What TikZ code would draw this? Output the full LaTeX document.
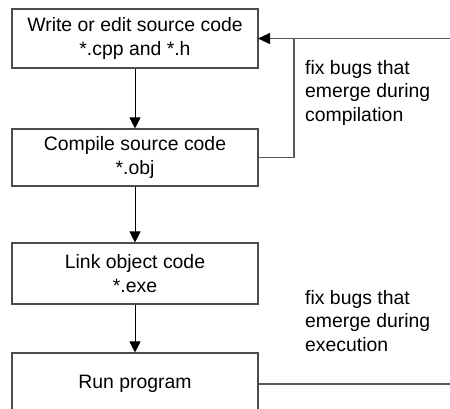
\documentclass[tikz,border=0pt]{standalone}
\usepackage{fontspec}
\setmainfont{Liberation Sans}
\usetikzlibrary{arrows.meta}
\begin{document}
\begin{tikzpicture}[x=1pt,y=-1pt,
  stage/.style={draw=black!70, line width=1.1pt, minimum width=246pt,
    inner sep=0pt, align=center, font=\fontsize{19.4}{23.5}\selectfont},
  flow/.style={draw=black, line width=1pt, -{Triangle[length=11pt,width=11pt]}},
  back/.style={draw=black!65, line width=1.2pt},
  note/.style={anchor=north west, inner sep=0pt, align=left,
    font=\fontsize{19.4}{23.5}\selectfont}]
  \useasboundingbox (0,0) rectangle (450,409);

  % process stages
  \node[stage, minimum height=59pt] (write)   at (135,38.5)  {Write or edit source code\\*.cpp and *.h};
  \node[stage, minimum height=57pt] (compile) at (135,157.5) {Compile source code\\*.obj};
  \node[stage, minimum height=61pt] (link)    at (135,273.5) {Link object code\\*.exe};
  \node[stage, minimum height=62pt] (run)     at (135,384)   {Run program};

  % main flow
  \draw[flow] (write) -- (compile);
  \draw[flow] (compile) -- (link);
  \draw[flow] (link) -- (run);

  % feedback loops
  \coordinate (loopin)  at (450,38.5);
  \coordinate (corner)  at (294,38.5);
  \coordinate (loopout) at (450,384);
  \draw[back] (compile.east) -| (corner);
  \draw[back] (loopin) -- (corner);
  \draw[back, -{Triangle[length=12pt,width=11pt,color=black]}, shorten >=-0.5pt] (corner) -- (write.east);
  \draw[back] (run.east) -- (loopout);

  % labels
  \node[note] (compnote) at (305,60)  {fix bugs that\\emerge during\\compilation};
  \node[note] (execnote) at (305,290) {fix bugs that\\emerge during\\execution};
\end{tikzpicture}
\end{document}
